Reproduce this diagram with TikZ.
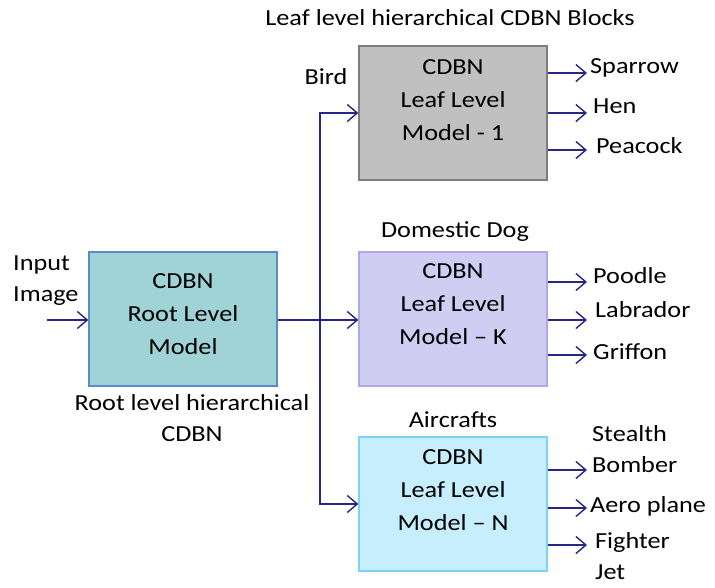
\documentclass[tikz,border=0pt]{standalone}
\usepackage{fontspec}
\setmainfont{Carlito}[FakeStretch=1.14]
\usetikzlibrary{arrows.meta}
\definecolor{LinkNavy}{RGB}{38,38,135}
\definecolor{RootTeal}{RGB}{160,211,214}
\definecolor{RootEdge}{RGB}{90,140,200}
\definecolor{BirdGrey}{RGB}{192,192,192}
\definecolor{BirdEdge}{RGB}{125,125,125}
\definecolor{DogLilac}{RGB}{208,205,242}
\definecolor{DogEdge}{RGB}{175,168,232}
\definecolor{AirSky}{RGB}{198,238,252}
\definecolor{AirEdge}{RGB}{120,212,242}

\tikzset{
  blk/.style={draw, line width=1.3pt, minimum width=188pt, minimum height=134pt, inner sep=0pt},
  boxtxt/.style={align=center, font=\fontsize{23}{33}\selectfont},
  lbl/.style={font=\fontsize{23}{31}\selectfont, inner sep=1pt},
  outlbl/.style={lbl, anchor=west, align=left},
  link/.style={LinkNavy, line width=1.4pt, -{Straight Barb[length=10pt,width=17pt,line width=1.4pt]}}
}

\begin{document}
\begin{tikzpicture}[x=1pt, y=-1pt]
    \useasboundingbox (0,0) rectangle (715,587);

    % Blocks
    \node[blk, fill=RootTeal, draw=RootEdge] (root) at (183,319) {};
    \node[blk, fill=BirdGrey, draw=BirdEdge] (leafA) at (453,113) {};
    \node[blk, fill=DogLilac, draw=DogEdge] (leafK) at (453,319) {};
    \node[blk, fill=AirSky, draw=AirEdge] (leafN) at (453,504) {};

    \node[boxtxt] (rootTxt) at ([yshift=5pt]root.center) {CDBN\\Root Level\\Model};
    \node[boxtxt] (leafATxt) at ([yshift=13pt]leafA.center) {CDBN\\Leaf Level\\Model - 1};
    \node[boxtxt] (leafKTxt) at ([yshift=15pt]leafK.center) {CDBN\\Leaf Level\\Model -- K};
    \node[boxtxt] (leafNTxt) at ([yshift=14pt]leafN.center) {CDBN\\Leaf Level\\Model -- N};

    % Etiquetas
    \node[lbl] (title) at (450,18) {Leaf level hierarchical CDBN Blocks};
    \node[lbl] (bird) at (326,77) {Bird};
    \node[lbl] (dog) at (455,232) {Domestic Dog};
    \node[lbl] (air) at (453,420) {Aircrafts};
    \node[lbl, align=left, anchor=west] (input) at (12,281) {Input\\Image};
    \node[lbl, align=center] (rootLbl) at (192,418) {Root level hierarchical\\CDBN};

    % Entrada y reparto
    \coordinate (inp) at (47,320);
    \coordinate (split) at (320,320);
    \draw[link] (inp) -- (root.west |- inp);
    \draw[LinkNavy, line width=1.4pt] (root.east |- split) -- (split);
    \draw[link] (split) -- (leafK.west |- split);
    \draw[link] (split) |- (leafA.west);
    \draw[link] (split) |- (leafN.west);

    % Salidas del bloque 1
    \coordinate (a1) at (587,73);
    \coordinate (a2) at (587,113);
    \coordinate (a3) at (587,150);
    \draw[link] (leafA.east |- a1) -- (a1);
    \draw[link] (leafA.east |- a2) -- (a2);
    \draw[link] (leafA.east |- a3) -- (a3);
    \node[outlbl] (sparrow) at (589,68) {Sparrow};
    \node[outlbl] (hen) at (592,106) {Hen};
    \node[outlbl] (peacock) at (595,146) {Peacock};

    % Salidas del bloque K
    \coordinate (k1) at (587,282);
    \coordinate (k2) at (587,320);
    \coordinate (k3) at (587,355);
    \draw[link] (leafK.east |- k1) -- (k1);
    \draw[link] (leafK.east |- k2) -- (k2);
    \draw[link] (leafK.east |- k3) -- (k3);
    \node[outlbl] (poodle) at (592,276) {Poodle};
    \node[outlbl] (labrador) at (594,310) {Labrador};
    \node[outlbl] (griffon) at (592,352) {Griffon};

    % Salidas del bloque N
    \coordinate (n1) at (587,470);
    \coordinate (n2) at (587,508);
    \coordinate (n3) at (587,545);
    \draw[link] (leafN.east |- n1) -- (n1);
    \draw[link] (leafN.east |- n2) -- (n2);
    \draw[link] (leafN.east |- n3) -- (n3);
    \node[outlbl] (bomber) at (591,449) {Stealth\\Bomber};
    \node[outlbl] (aero) at (589,506) {Aero plane};
    \node[outlbl] (fighter) at (594,556) {Fighter\\Jet};
\end{tikzpicture}
\end{document}
